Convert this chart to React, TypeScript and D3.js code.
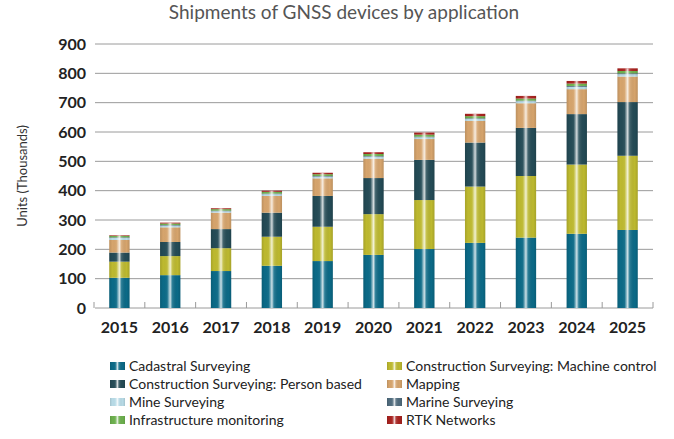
import React from "react";
import * as d3 from "d3";

const years = ["2015","2016","2017","2018","2019","2020","2021","2022","2023","2024","2025"];
const seriesNames = [
  "Cadastral Surveying",
  "Construction Surveying: Machine control",
  "Construction Surveying: Person based",
  "Mapping",
  "Mine Surveying",
  "Marine Surveying",
  "Infrastructure monitoring",
  "RTK Networks",
];
const cadastral = [103, 112, 126, 144, 160, 181, 201, 222, 240, 253, 266];
const machineControl = [55, 65, 78, 99, 117, 139, 167, 192, 210, 236, 253];
const personBased = [31, 48, 65, 82, 105, 123, 137, 150, 164, 172, 183];
const mapping = [43, 50, 56, 57, 60, 66, 71, 74, 84, 85, 87];
const mine = [7, 6, 5, 6, 6, 7, 6, 7, 7, 8, 8];
const marine = [2, 2, 2, 2, 2, 2, 2, 2, 2, 3, 3];
const infra = [5, 5, 5, 6, 6, 7, 7, 7, 7, 8, 8];
const rtk = [2, 3, 3, 4, 5, 6, 7, 8, 9, 9, 9];
const yTicks = [0, 100, 200, 300, 400, 500, 600, 700, 800, 900];

const colors = ["#0b6a87", "#bdb92f", "#244b56", "#d6a46c", "#b8dbe7", "#4f6b7d", "#6cb04d", "#a8221f"];
const allSeries = [cadastral, machineControl, personBased, mapping, mine, marine, infra, rtk];

export default function App() {
  const W = 674, H = 439;
  const x = d3.scaleBand<string>().domain(years).range([94, 653]).paddingInner(0.6).paddingOuter(0.3);
  const y = d3.scaleLinear().domain([0, 900]).range([308, 44]);
  const rows = years.map((yr, i) => {
    const o: any = { year: yr };
    seriesNames.forEach((s, k) => (o[s] = allSeries[k][i]));
    return o;
  });
  const stacked = d3.stack<any>().keys(seriesNames)(rows);
  const step = x.step();
  const x0 = 94;
  const font = "Lato, 'Open Sans', sans-serif";

  const legendItems = seriesNames.map((s, k) => ({
    name: s,
    color: colors[k],
    col: k % 2,
    row: Math.floor(k / 2),
  }));

  return (
    <svg width={W} height={H} style={{ position: "absolute", left: 0, top: 0, background: "#fff" }}>
      <defs>
        <linearGradient id="shine" x1="0" x2="1" y1="0" y2="0">
          <stop offset="0" stopColor="#000" stopOpacity={0.12} />
          <stop offset="0.15" stopColor="#000" stopOpacity={0.0} />
          <stop offset="0.35" stopColor="#fff" stopOpacity={0.05} />
          <stop offset="0.5" stopColor="#fff" stopOpacity={0.8} />
          <stop offset="0.6" stopColor="#fff" stopOpacity={0.15} />
          <stop offset="0.85" stopColor="#000" stopOpacity={0.0} />
          <stop offset="1" stopColor="#000" stopOpacity={0.12} />
        </linearGradient>
      </defs>
      <text x={344} y={19} textAnchor="middle" fontFamily={font} fontSize={19} fill="#555">
        Shipments of GNSS devices by application
      </text>
      {yTicks.map((t) => (
        <g key={t}>
          <line x1={95} x2={653} y1={y(t)} y2={y(t)} stroke="#9a9a9a" strokeWidth={1} />
          <text x={86} y={y(t)} dy="0.35em" textAnchor="end" fontFamily={font} fontWeight={700} fontSize={16} fill="#222">
            {t}
          </text>
        </g>
      ))}
      {d3.range(years.length + 1).map((i) => (
        <line key={i} x1={x0 + i * step} x2={x0 + i * step} y1={308} y2={302} stroke="#9a9a9a" strokeWidth={1} />
      ))}
      <text transform={`translate(27,176) rotate(-90)`} textAnchor="middle" fontFamily={font} fontSize={13} fill="#333">
        Units (Thousands)
      </text>
      {stacked.map((layer, k) => (
        <g key={k} fill={colors[k]}>
          {layer.map((d, i) => (
            <rect key={i} x={x(years[i])!} width={x.bandwidth()} y={y(d[1])} height={y(d[0]) - y(d[1])} />
          ))}
        </g>
      ))}
      {years.map((yr, i) => {
        const top = stacked[stacked.length - 1][i][1];
        return <rect key={yr} x={x(yr)!} width={x.bandwidth()} y={y(top)} height={y(0) - y(top)} fill="url(#shine)" />;
      })}
      {years.map((yr) => (
        <text key={yr} x={x(yr)! + x.bandwidth() / 2} y={327} dy="0.35em" textAnchor="middle" fontFamily={font} fontWeight={700} fontSize={16} fill="#222">
          {yr}
        </text>
      ))}
      {legendItems.map((it) => {
        const lx = it.col === 0 ? 110 : 387;
        const ly = 366 + it.row * 18;
        return (
          <g key={it.name}>
            <rect x={lx} y={ly - 4} width={15} height={8} fill={it.color} />
            <rect x={lx} y={ly - 4} width={15} height={8} fill="url(#shine)" />
            <text x={lx + 19} y={ly} dy="0.35em" fontFamily={font} fontSize={14} fill="#222">
              {it.name}
            </text>
          </g>
        );
      })}
    </svg>
  );
}
